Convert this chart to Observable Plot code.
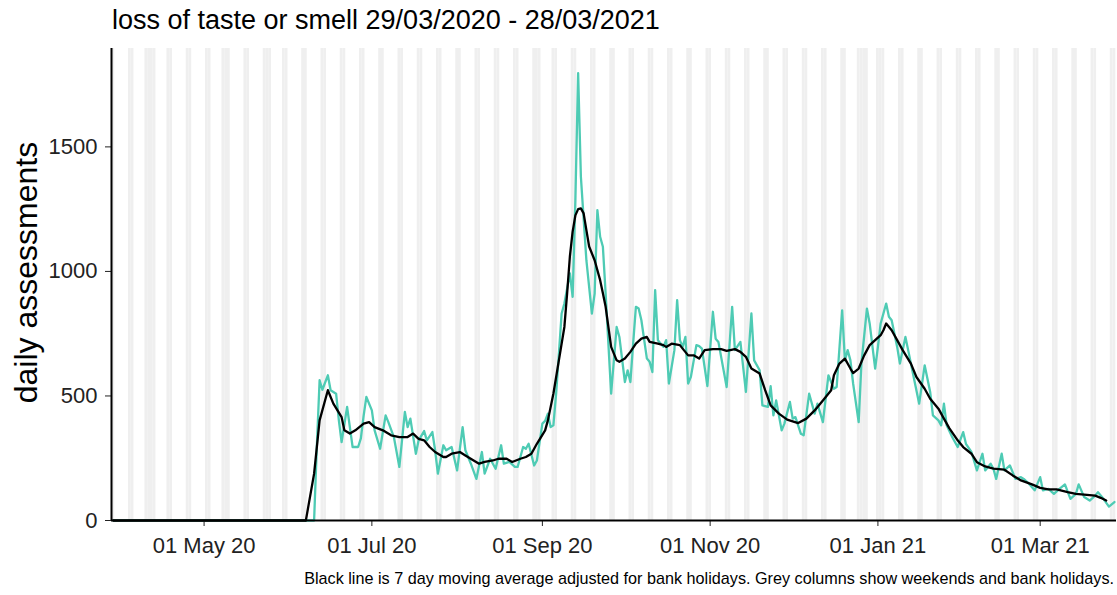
<!DOCTYPE html>
<html>
<head>
<meta charset="utf-8">
<script src="https://cdn.jsdelivr.net/npm/d3@7"></script>
<script src="https://cdn.jsdelivr.net/npm/@observablehq/plot@0.6"></script>
<style>
  body { margin: 0; background: #fff; font-family: "Liberation Sans", Arial, sans-serif; }
  #wrap { width: 1117px; height: 595px; position: relative; overflow: hidden; }
  #title { position: absolute; left: 112px; top: 5px; font-size: 27px; color: #000; white-space: nowrap; }
  #chart { position: absolute; left: 0; top: 44px; }
  #caption { position: absolute; right: 3px; top: 569px; font-size: 16.2px; line-height: 18px; color: #000; white-space: nowrap; }
</style>
</head>
<body>
<div id="wrap">
  <div id="title">loss of taste or smell 29/03/2020 - 28/03/2021</div>
  <div id="chart"></div>
  <div id="caption">Black line is 7 day moving average adjusted for bank holidays. Grey columns show weekends and bank holidays.</div>
</div>
<script>
// ---- data ----
const periodStart = "2020-03-29";
const periodEnd = "2021-03-28";
const bankHolidays = ["2020-04-10","2020-04-13","2020-05-08","2020-05-25","2020-08-31","2020-12-25","2020-12-28","2021-01-01"];
const xTickDates = ["2020-05-01","2020-07-01","2020-09-01","2020-11-01","2021-01-01","2021-03-01"];
const yTickValues = [0, 500, 1000, 1500];

const dailyDates = ["2020-03-29","2020-06-10","2020-06-11","2020-06-12","2020-06-13","2020-06-15","2020-06-16","2020-06-18","2020-06-19","2020-06-20",
"2020-06-22","2020-06-23","2020-06-24","2020-06-26","2020-06-27","2020-06-28","2020-06-29","2020-07-01","2020-07-02","2020-07-04",
"2020-07-06","2020-07-07","2020-07-09","2020-07-11","2020-07-13","2020-07-14","2020-07-15","2020-07-17","2020-07-18","2020-07-20",
"2020-07-21","2020-07-23","2020-07-24","2020-07-25","2020-07-27","2020-07-28","2020-07-30","2020-08-01","2020-08-03","2020-08-04",
"2020-08-06","2020-08-08","2020-08-10","2020-08-11","2020-08-13","2020-08-15","2020-08-17","2020-08-18","2020-08-20","2020-08-22",
"2020-08-23","2020-08-25","2020-08-26","2020-08-27","2020-08-29","2020-08-30","2020-09-01","2020-09-02","2020-09-03","2020-09-04",
"2020-09-05","2020-09-06","2020-09-08","2020-09-09","2020-09-11","2020-09-12","2020-09-13","2020-09-14","2020-09-15","2020-09-17",
"2020-09-19","2020-09-20","2020-09-21","2020-09-22","2020-09-23","2020-09-24","2020-09-26","2020-09-28","2020-09-29","2020-10-01",
"2020-10-02","2020-10-03","2020-10-04","2020-10-05","2020-10-06","2020-10-07","2020-10-09","2020-10-10","2020-10-11","2020-10-12",
"2020-10-13","2020-10-15","2020-10-16","2020-10-17","2020-10-19","2020-10-20","2020-10-21","2020-10-22","2020-10-23","2020-10-24",
"2020-10-25","2020-10-27","2020-10-28","2020-10-29","2020-10-31","2020-11-02","2020-11-03","2020-11-04","2020-11-07","2020-11-09",
"2020-11-10","2020-11-12","2020-11-14","2020-11-16","2020-11-17","2020-11-19","2020-11-20","2020-11-22","2020-11-23","2020-11-24",
"2020-11-25","2020-11-27","2020-11-28","2020-11-30","2020-12-01","2020-12-02","2020-12-04","2020-12-05","2020-12-07","2020-12-09",
"2020-12-10","2020-12-12","2020-12-14","2020-12-16","2020-12-17","2020-12-19","2020-12-20","2020-12-21","2020-12-22","2020-12-23",
"2020-12-25","2020-12-26","2020-12-28","2020-12-29","2020-12-31","2021-01-01","2021-01-02","2021-01-04","2021-01-05","2021-01-06",
"2021-01-08","2021-01-09","2021-01-11","2021-01-12","2021-01-14","2021-01-16","2021-01-18","2021-01-20","2021-01-21","2021-01-23",
"2021-01-24","2021-01-25","2021-01-26","2021-01-28","2021-01-30","2021-02-01","2021-02-02","2021-02-04","2021-02-06","2021-02-08",
"2021-02-09","2021-02-11","2021-02-12","2021-02-13","2021-02-15","2021-02-16","2021-02-18","2021-02-20","2021-02-22","2021-02-23",
"2021-02-25","2021-02-27","2021-03-01","2021-03-02","2021-03-04","2021-03-06","2021-03-08","2021-03-10","2021-03-12","2021-03-14",
"2021-03-15","2021-03-17","2021-03-19","2021-03-21","2021-03-22","2021-03-24","2021-03-26","2021-03-28"];
const dailyValues = [0,0,300,563,525,583,523,509,402,315,
456,375,295,295,330,420,496,442,362,288,
422,395,335,215,436,375,409,268,322,359,
322,355,282,188,302,282,295,201,375,282,
228,167,275,188,248,208,302,228,235,215,
215,295,288,308,221,241,389,400,429,375,
382,509,831,871,992,898,1287,1796,1380,1045,
831,911,1246,1139,1099,911,509,777,737,556,
603,556,710,858,851,804,650,637,596,925,
724,697,724,550,684,885,724,697,737,550,
577,704,700,690,540,838,730,717,536,858,
684,717,516,831,643,603,462,456,539,422,
482,362,389,476,409,415,348,342,509,429,
469,395,583,529,536,844,643,684,643,549,
395,630,851,791,610,697,791,871,818,804,
697,630,737,684,576,469,623,516,422,402,
382,469,382,335,295,355,308,275,201,268,
201,228,208,167,268,201,221,167,174,167,
147,121,174,121,127,107,127,145,87,107,
145,94,80,100,114,87,56,74];

const averageDates = ["2020-03-29","2020-06-07","2020-06-10","2020-06-12","2020-06-15","2020-06-17","2020-06-20","2020-06-21","2020-06-23","2020-06-25",
"2020-06-28","2020-06-30","2020-07-02","2020-07-05","2020-07-08","2020-07-11","2020-07-14","2020-07-16","2020-07-18","2020-07-20",
"2020-07-22","2020-07-24","2020-07-27","2020-07-28","2020-07-30","2020-08-02","2020-08-04","2020-08-07","2020-08-09","2020-08-11",
"2020-08-14","2020-08-16","2020-08-19","2020-08-21","2020-08-24","2020-08-26","2020-08-28","2020-08-30","2020-09-02","2020-09-03",
"2020-09-05","2020-09-07","2020-09-09","2020-09-10","2020-09-11","2020-09-12","2020-09-13","2020-09-14","2020-09-15","2020-09-16",
"2020-09-17","2020-09-18","2020-09-20","2020-09-22","2020-09-23","2020-09-24","2020-09-25","2020-09-26","2020-09-28","2020-09-29",
"2020-10-01","2020-10-03","2020-10-05","2020-10-07","2020-10-09","2020-10-10","2020-10-13","2020-10-15","2020-10-16","2020-10-18",
"2020-10-21","2020-10-22","2020-10-24","2020-10-26","2020-10-28","2020-10-30","2020-11-02","2020-11-05","2020-11-07","2020-11-10",
"2020-11-12","2020-11-14","2020-11-16","2020-11-19","2020-11-21","2020-11-23","2020-11-26","2020-11-29","2020-12-03","2020-12-06",
"2020-12-09","2020-12-12","2020-12-15","2020-12-16","2020-12-18","2020-12-20","2020-12-22","2020-12-23","2020-12-25","2020-12-27",
"2020-12-29","2020-12-31","2021-01-02","2021-01-03","2021-01-04","2021-01-06","2021-01-08","2021-01-10","2021-01-13","2021-01-15",
"2021-01-18","2021-01-20","2021-01-23","2021-01-25","2021-01-27","2021-01-30","2021-02-01","2021-02-04","2021-02-06","2021-02-09",
"2021-02-12","2021-02-16","2021-02-19","2021-02-22","2021-02-26","2021-03-01","2021-03-04","2021-03-07","2021-03-11","2021-03-14",
"2021-03-17","2021-03-21","2021-03-23","2021-03-25"];
const averageValues = [0,0,188,402,523,469,415,362,349,362,
389,395,375,362,342,335,335,349,328,322,
295,275,255,255,268,275,261,241,228,235,
241,248,248,235,248,255,268,308,362,402,
509,643,777,912,1060,1160,1225,1250,1253,1233,
1166,1100,1045,965,912,858,777,697,643,637,
650,677,710,730,737,717,710,704,697,710,
704,690,663,663,650,684,688,688,681,688,
677,657,610,590,523,462,429,405,391,409,
442,482,523,583,630,650,610,592,610,663,
704,724,744,764,791,764,724,684,630,576,
529,489,449,409,370,322,295,268,234,217,
208,204,181,161,145,131,125,125,114,107,
104,100,91,80];

// ---- build tables ----
const parse = d3.utcParse("%Y-%m-%d");
const daily = dailyDates.map((d, i) => ({date: parse(d), value: dailyValues[i]}));
const average = averageDates.map((d, i) => ({date: parse(d), value: averageValues[i]}));
const holidaySet = new Set(bankHolidays);
const fmtKey = d3.utcFormat("%Y-%m-%d");
const greyDays = d3.utcDay.range(parse(periodStart), d3.utcDay.offset(parse(periodEnd), 1))
  .filter(d => d.getUTCDay() === 0 || d.getUTCDay() === 6 || holidaySet.has(fmtKey(d)));

const xStart = new Date(Date.UTC(2020, 2, 28, 8));
const xEnd = new Date(Date.UTC(2021, 2, 28, 18));

const chart = Plot.plot({
  width: 1117,
  height: 524,
  marginLeft: 111,
  marginRight: 1,
  marginTop: 4,
  marginBottom: 48,
  style: {fontFamily: "'Liberation Sans', Arial, sans-serif", fontSize: "22px", color: "#222", background: "#fff"},
  x: {type: "utc", domain: [xStart, xEnd]},
  y: {domain: [0, 1895]},
  marks: [
    Plot.rect(greyDays, {x1: d => d3.utcHour.offset(d, -12), x2: d => d3.utcHour.offset(d, 12), fill: "#efefef"}),
    Plot.line(daily, {x: "date", y: "value", stroke: "#4ecbb4", strokeWidth: 2.3}),
    Plot.line(average, {x: "date", y: "value", stroke: "#000", strokeWidth: 2.3}),
    Plot.axisY({ticks: yTickValues, tickSize: 6, tickPadding: 8, label: null, tickFormat: d => String(d)}),
    Plot.axisX({ticks: xTickDates.map(parse), tickSize: 6, tickPadding: 11, label: null, tickFormat: d3.utcFormat("%d %b %y")}),
    Plot.ruleY([0], {stroke: "#000", strokeWidth: 2}),
    Plot.ruleX([xStart], {stroke: "#000", strokeWidth: 2}),
    Plot.text(["daily assessments"], {frameAnchor: "left", textAnchor: "middle", dx: -85, dy: -12, rotate: -90, fontSize: 32, fill: "#000"})
  ]
});
document.getElementById("chart").appendChild(chart);
</script>
</body>
</html>
